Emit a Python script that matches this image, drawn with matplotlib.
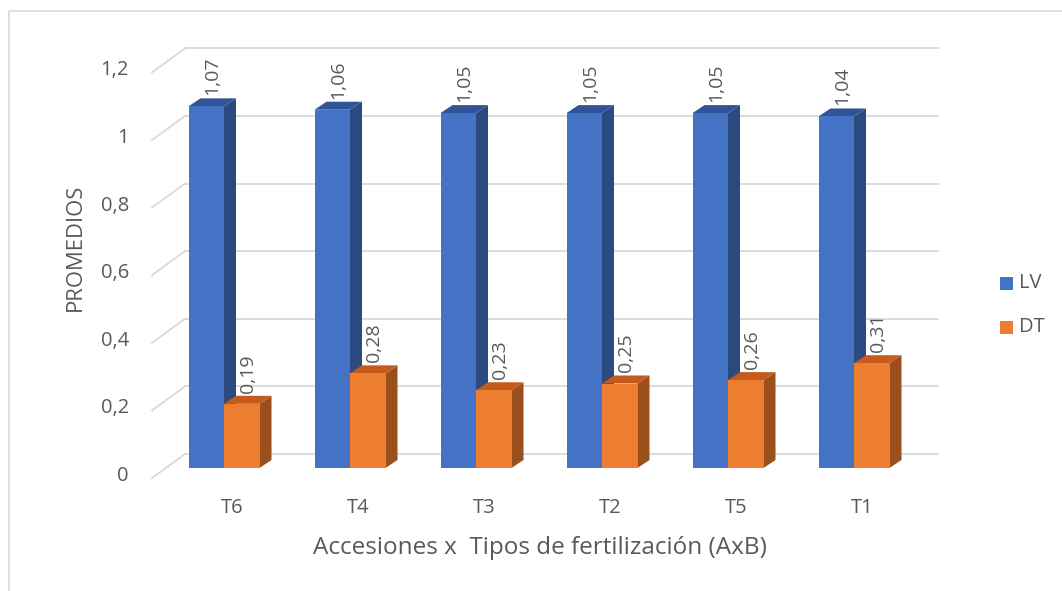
import matplotlib.pyplot as plt
from matplotlib.patches import Polygon, Rectangle

# Datos: promedios por tratamiento
tratamientos = ['T6', 'T4', 'T3', 'T2', 'T5', 'T1']
lv = [1.07, 1.06, 1.05, 1.05, 1.05, 1.04]
dt = [0.19, 0.28, 0.23, 0.25, 0.26, 0.31]
yticks = [0, 0.2, 0.4, 0.6, 0.8, 1.0, 1.2]

plt.rcParams['font.family'] = ['Open Sans', 'DejaVu Sans']
gris = '#595959'

fig = plt.figure(figsize=(10.62, 5.91), dpi=100)
# escala: 126 px por categoria, 338 px por unidad
px_x = 126.0
px_y = 338.0
x0_px, y0_px = 224.0, 468.0
left_px, right_px, top_px, bot_px = 140.0, 950.0, 30.0, 490.0
ax = fig.add_axes([left_px / 1062, (591 - bot_px) / 591,
                   (right_px - left_px) / 1062, (bot_px - top_px) / 591])
ax.set_xlim((left_px - x0_px) / px_x, (right_px - x0_px) / px_x)
ax.set_ylim((y0_px - bot_px) / px_y, (y0_px - top_px) / px_y)
ax.axis('off')

def dx(p):
    return p / px_x

def dy(p):
    return p / px_y

# pared del fondo y lineas del piso
gcol = '#d9d9d9'
back_off = dy(14)
for t in yticks:
    yb = t + back_off
    ax.plot([dx(185 - x0_px), dx(938 - x0_px)], [yb, yb], color=gcol, lw=1.3, zorder=1)
    ax.plot([dx(152 - x0_px), dx(185 - x0_px)], [yb - dy(24), yb], color=gcol, lw=1.3, zorder=1)
    ax.text(dx(129 - x0_px), yb - dy(22), f'{t:g}'.replace('.', ','), ha='right', va='center',
            fontsize=14.5, color=gris, clip_on=False)

w = dx(35.5)
ddx, ddy = dx(12), dy(8)

def barra(x, h, c_front, c_top, c_side, z):
    ax.add_patch(Polygon([(x + w, 0), (x + w + ddx, ddy), (x + w + ddx, h + ddy), (x + w, h)],
                         closed=True, facecolor=c_side, edgecolor='none', zorder=z))
    ax.add_patch(Polygon([(x, h), (x + ddx, h + ddy), (x + w + ddx, h + ddy), (x + w, h)],
                         closed=True, facecolor=c_top, edgecolor='none', zorder=z))
    ax.add_patch(Rectangle((x, 0), w, h, facecolor=c_front, edgecolor='none', zorder=z + 0.5))

for i, (a, b) in enumerate(zip(lv, dt)):
    barra(i - w, a, '#4472c4', '#2f5597', '#2b4a80', 2 + i)
    barra(i, b, '#ed7d31', '#c55a1c', '#9b4f1c', 2.7 + i)
    ax.text(i - w / 2 + dx(6), a + dy(11), f'{a:.2f}'.replace('.', ','), rotation=90,
            ha='center', va='bottom', fontsize=14, color=gris, zorder=20)
    ax.text(i + w / 2 + dx(6), b + dy(11), f'{b:.2f}'.replace('.', ','), rotation=90,
            ha='center', va='bottom', fontsize=14, color=gris, zorder=20)
    ax.text(i + dx(8), -dy(40), tratamientos[i], ha='center', va='center',
            fontsize=14.5, color=gris, clip_on=False)

fig.text(540 / 1062, 1 - 548 / 591, 'Accesiones x  Tipos de fertilización (AxB)',
         ha='center', va='center', fontsize=17.5, color=gris)
fig.text(75 / 1062, 1 - 247 / 591, 'PROMEDIOS', rotation=90,
         ha='center', va='center', fontsize=15.8, color=gris)

# leyenda
for j, (nom, col) in enumerate([('LV', '#4472c4'), ('DT', '#ed7d31')]):
    yy = 1 - (283 + 44 * j) / 591
    fig.patches.append(Rectangle((1000 / 1062, yy - 6.5 / 591), 13 / 1062, 13 / 591,
                                 facecolor=col, edgecolor='none', transform=fig.transFigure))
    fig.text(1019 / 1062, yy, nom, ha='left', va='center', fontsize=14.5, color=gris)

# marco
fig.patches.append(Rectangle((9 / 1062, -0.05), 1.2, 1 - 11 / 591 + 0.05, fill=False,
                             edgecolor='#d9d9d9', lw=1.2, transform=fig.transFigure))

fig.savefig('out.png', dpi=100, facecolor='white')
